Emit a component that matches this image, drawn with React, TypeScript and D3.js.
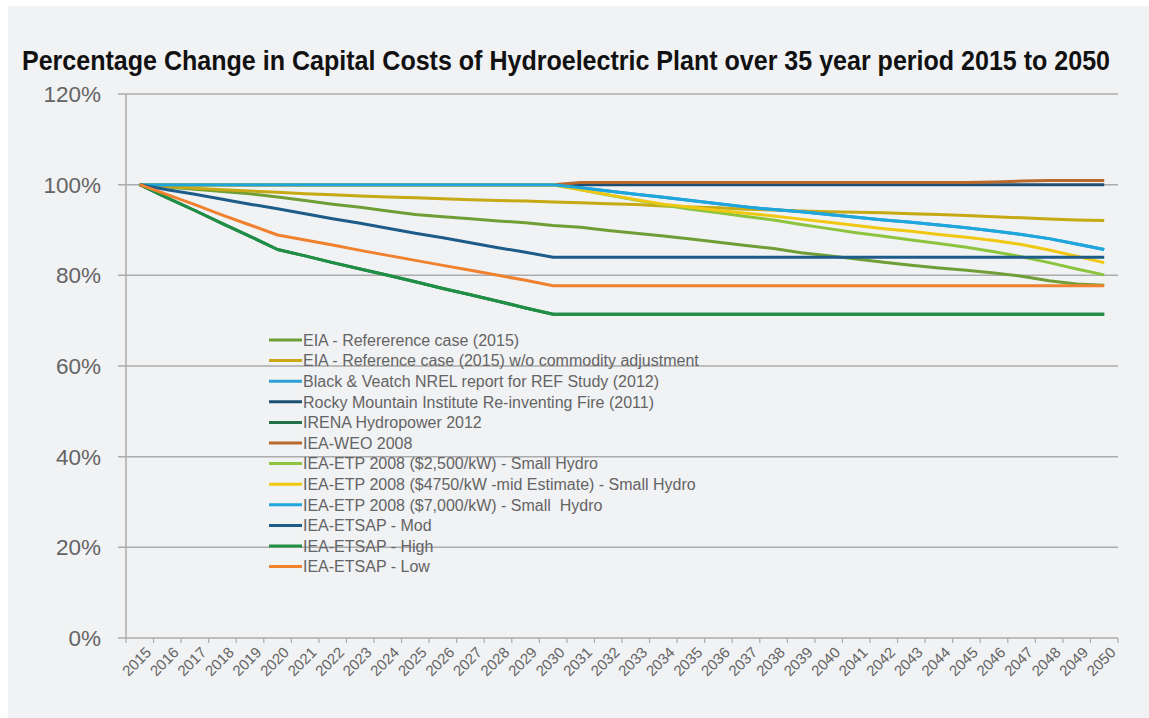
import React from "react";
import * as d3 from "d3";

const years = ["2015","2016","2017","2018","2019","2020","2021","2022","2023","2024","2025","2026","2027","2028","2029","2030","2031","2032","2033","2034","2035","2036","2037","2038","2039","2040","2041","2042","2043","2044","2045","2046","2047","2048","2049","2050"];

const yTicks = [0, 20, 40, 60, 80, 100, 120];

const eiaRef = [100,99.5,99.0,98.5,98.0,97.3,96.5,95.7,95.0,94.2,93.4,92.9,92.5,92.0,91.6,91.0,90.6,89.9,89.3,88.7,88.0,87.3,86.6,85.9,85.0,84.3,83.6,82.9,82.2,81.6,81.1,80.5,79.8,78.8,78.1,77.8];
const eiaNoCommodity = [100,99.6,99.2,98.9,98.6,98.3,98.0,97.8,97.5,97.3,97.1,96.9,96.7,96.5,96.4,96.2,96.0,95.8,95.6,95.3,95.1,94.9,94.6,94.4,94.2,94.0,93.9,93.8,93.6,93.4,93.2,92.9,92.7,92.4,92.2,92.1];
const blackVeatch = [100,100,100,100,100,100,100,100,100,100,100,100,100,100,100,100,99.3,98.6,97.9,97.2,96.5,95.8,95.1,94.5,94.0,93.4,92.8,92.2,91.7,91.1,90.5,89.8,89.0,88.1,86.9,85.7];
const rockyMountain = [100,100,100,100,100,100,100,100,100,100,100,100,100,100,100,100,100,100,100,100,100,100,100,100,100,100,100,100,100,100,100,100,100,100,100,100];
const irena = [100,97.1,94.3,91.4,88.6,85.7,84.3,82.8,81.4,80.0,78.6,77.1,75.7,74.3,72.8,71.4,71.4,71.4,71.4,71.4,71.4,71.4,71.4,71.4,71.4,71.4,71.4,71.4,71.4,71.4,71.4,71.4,71.4,71.4,71.4,71.4];
const ieaWeo = [100,100,100,100,100,100,100,100,100,100,100,100,100,100,100,100,100.5,100.5,100.5,100.5,100.5,100.5,100.5,100.5,100.5,100.5,100.5,100.5,100.5,100.5,100.5,100.6,100.8,100.9,100.9,100.9];
const etp2500 = [100,100,100,100,100,100,100,100,100,100,100,100,100,100,100,100,98.9,97.7,96.6,95.5,94.6,93.8,93.0,92.2,91.2,90.3,89.4,88.6,87.8,87.0,86.2,85.2,84.1,82.8,81.4,80.1];
const etp4750 = [100,100,100,100,100,100,100,100,100,100,100,100,100,100,100,100,98.9,97.8,96.7,95.7,95.0,94.3,93.7,93.1,92.4,91.7,91.0,90.3,89.7,89.0,88.4,87.7,86.8,85.6,84.2,82.8];
const etp7000 = [100,100,100,100,100,100,100,100,100,100,100,100,100,100,100,100,99.3,98.6,97.9,97.2,96.5,95.8,95.1,94.5,94.0,93.4,92.8,92.2,91.7,91.1,90.5,89.8,89.0,88.1,86.9,85.7];
const etsapMod = [100,98.9,97.9,96.8,95.7,94.7,93.6,92.5,91.5,90.4,89.3,88.3,87.2,86.1,85.1,84.0,84.0,84.0,84.0,84.0,84.0,84.0,84.0,84.0,84.0,84.0,84.0,84.0,84.0,84.0,84.0,84.0,84.0,84.0,84.0,84.0];
const etsapHigh = [100,97.1,94.3,91.4,88.6,85.7,84.3,82.8,81.4,80.0,78.6,77.1,75.7,74.3,72.8,71.4,71.4,71.4,71.4,71.4,71.4,71.4,71.4,71.4,71.4,71.4,71.4,71.4,71.4,71.4,71.4,71.4,71.4,71.4,71.4,71.4];
const etsapLow = [100,97.8,95.6,93.3,91.1,88.9,87.8,86.7,85.5,84.4,83.3,82.2,81.1,80.0,78.9,77.7,77.7,77.7,77.7,77.7,77.7,77.7,77.7,77.7,77.7,77.7,77.7,77.7,77.7,77.7,77.7,77.7,77.7,77.7,77.7,77.7];

const seriesNames = [
  "EIA - Refererence case (2015)",
  "EIA - Reference case (2015) w/o commodity adjustment",
  "Black & Veatch NREL report for REF Study (2012)",
  "Rocky Mountain Institute Re-inventing Fire (2011)",
  "IRENA Hydropower 2012",
  "IEA-WEO 2008",
  "IEA-ETP 2008 ($2,500/kW) - Small Hydro",
  "IEA-ETP 2008 ($4750/kW -mid Estimate) - Small Hydro",
  "IEA-ETP 2008 ($7,000/kW) - Small  Hydro",
  "IEA-ETSAP - Mod",
  "IEA-ETSAP - High",
  "IEA-ETSAP - Low",
];
const seriesValues = [eiaRef, eiaNoCommodity, blackVeatch, rockyMountain, irena, ieaWeo, etp2500, etp4750, etp7000, etsapMod, etsapHigh, etsapLow];
const seriesColors = ["#6f9e36", "#c6a914", "#2b9fd6", "#1d4f72", "#22714a", "#b8692c", "#8cc43f", "#f0c812", "#1fa6dd", "#1d5c89", "#1f8f45", "#f0822f"];

const W = 1149, H = 718;
const left = 126, right = 1118, top = 94, bottom = 638;
const textGray = "#646464";
const gridGray = "#ababab";
const font = "'Liberation Sans', Arial, sans-serif";

export default function App() {
  const x = d3.scaleBand<string>().domain(years).range([left, right]).padding(0);
  const y = d3.scaleLinear().domain([0, 120]).range([bottom, top]);
  const cx = (yr: string) => (x(yr) as number) + x.bandwidth() / 2;
  const line = d3.line<number>().x((_, i) => cx(years[i])).y((v) => y(v));

  const boundaries = years.map((yr) => x(yr) as number).concat([right]);
  const titleScale = 0.82;

  return (
    <svg width={W} height={H} style={{ position: "absolute", left: 0, top: 0 }}>
      <rect x={0} y={0} width={W} height={H} fill="#ffffff" />
      <rect x={8} y={6} width={W - 8} height={H - 6} fill="#f1f2f4" />
      <g transform={`translate(22,70) scale(${titleScale},1)`}>
        <text x={0} y={0} fontFamily="'Liberation Sans Narrow', 'Liberation Sans', Arial, sans-serif" fontWeight="bold" fontSize={28} fill="#111" textLength={1088 / titleScale} lengthAdjust="spacingAndGlyphs">
          Percentage Change in Capital Costs of Hydroelectric Plant over 35 year period 2015 to 2050
        </text>
      </g>
      {yTicks.map((t) => (
        <g key={t}>
          {t > 0 && <line x1={left - 8} x2={right} y1={y(t)} y2={y(t)} stroke={gridGray} strokeWidth={1.5} />}
          <text x={101} y={y(t)} dy="0.36em" textAnchor="end" fontFamily={font} fontSize={22.5} fill={textGray}>{t}%</text>
        </g>
      ))}
      <line x1={left} x2={left} y1={top} y2={bottom} stroke={gridGray} strokeWidth={1.5} />
      <line x1={left - 8} x2={right} y1={bottom} y2={bottom} stroke={gridGray} strokeWidth={1.5} />
      {boundaries.map((bx, i) => (
        <line key={i} x1={bx} x2={bx} y1={bottom} y2={bottom + 5} stroke={gridGray} strokeWidth={1.2} />
      ))}
      {years.map((yr) => (
        <text key={yr} transform={`translate(${cx(yr) + 5},${bottom + 8}) rotate(-45)`} textAnchor="end" dy="0.7em" fontFamily={font} fontSize={15} fill={textGray}>{yr}</text>
      ))}
      {seriesValues.map((vals, i) => (
        <path key={i} d={line(vals) || ""} fill="none" stroke={seriesColors[i]} strokeWidth={3} strokeLinejoin="round" />
      ))}
      {seriesNames.map((name, i) => {
        const ly = 340 + i * 20.6;
        return (
          <g key={name}>
            <line x1={269} x2={302} y1={ly} y2={ly} stroke={seriesColors[i]} strokeWidth={3} />
            <text x={303} y={ly} dy="0.36em" fontFamily={font} fontSize={16} fill={textGray} style={{ whiteSpace: "pre" }}>{name}</text>
          </g>
        );
      })}
    </svg>
  );
}
